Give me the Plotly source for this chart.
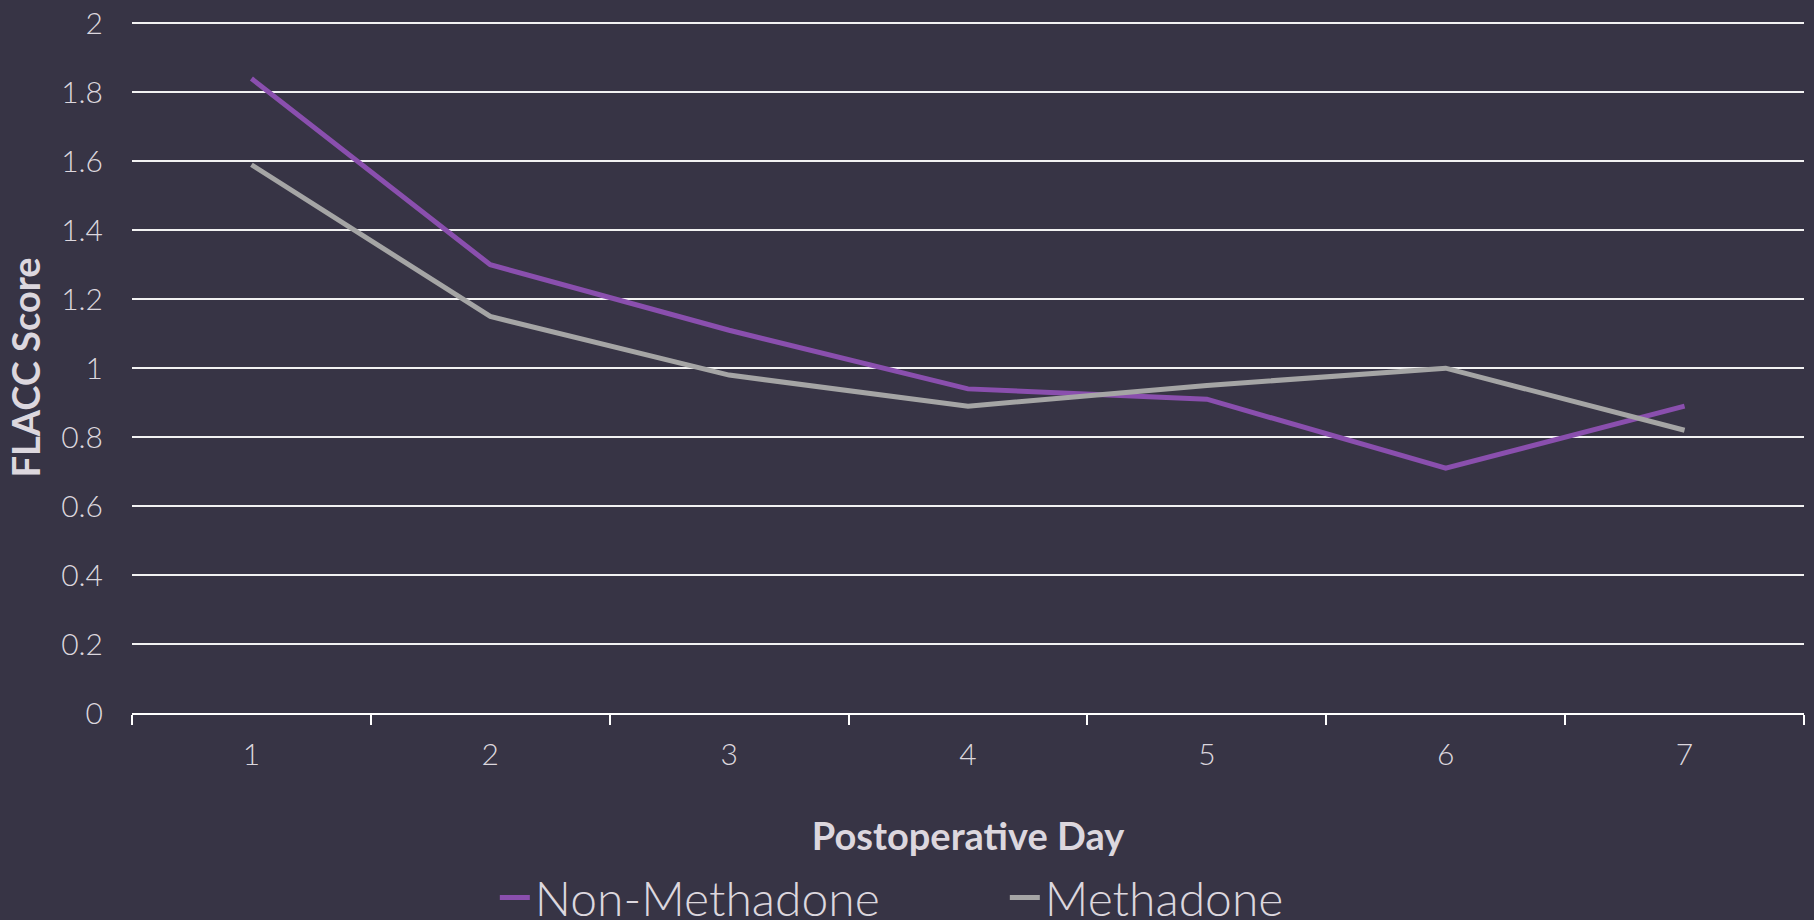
import plotly.graph_objects as go

days = ["1", "2", "3", "4", "5", "6", "7"]
non_methadone = [1.84, 1.30, 1.11, 0.94, 0.91, 0.71, 0.89]
methadone = [1.59, 1.15, 0.98, 0.89, 0.95, 1.00, 0.82]

BG = "#373445"
PURPLE = "#8A4FAE"
GRAY = "#A5A5A5"
TEXT = "#DCD7DE"
FONT = "Lato"

fig = go.Figure()
fig.add_trace(go.Scatter(x=days, y=non_methadone, mode="lines", name="Non-Methadone",
                         line=dict(color=PURPLE, width=5)))
fig.add_trace(go.Scatter(x=days, y=methadone, mode="lines", name="Methadone",
                         line=dict(color=GRAY, width=5)))

fig.update_layout(
    width=1814, height=920,
    paper_bgcolor=BG, plot_bgcolor=BG,
    margin=dict(l=132, r=10, t=22, b=207, autoexpand=False),
    font=dict(family=FONT, color=TEXT),
    showlegend=True,
    legend=dict(orientation="h", x=0.217, xanchor="left", y=0.024, yanchor="middle",
                yref="container",
                font=dict(size=48, color=TEXT, family=FONT, weight=300),
                bgcolor="rgba(0,0,0,0)", entrywidth=465, entrywidthmode="pixels"),
)

fig.update_xaxes(
    type="category", range=[-0.5, 6.5],
    showline=True, linecolor="#FFFFFF", linewidth=2,
    ticks="outside", tickson="boundaries", ticklen=10, tickwidth=2, tickcolor="#FFFFFF",
    showgrid=False, zeroline=False,
    tickfont=dict(size=30, color=TEXT, family=FONT, weight=300),
    ticklabelstandoff=14,
    title=dict(text="Postoperative Day", font=dict(size=38, color=TEXT, family=FONT, weight="bold"),
               standoff=53),
)
fig.update_yaxes(
    range=[0, 2.004], dtick=0.2, tick0=0,
    showgrid=True, gridcolor="#F2F2F2", gridwidth=2,
    zeroline=False, showline=False, ticks="",
    tickfont=dict(size=30, color=TEXT, family=FONT, weight=300),
    ticklabelstandoff=28,
    title=dict(text="FLACC Score", font=dict(size=38, color=TEXT, family=FONT, weight="bold"),
               standoff=8),
)

fig.write_html("out.html", config={"displayModeBar": False},
               post_script="document.body.style.margin='0';document.body.style.overflow='hidden';")
